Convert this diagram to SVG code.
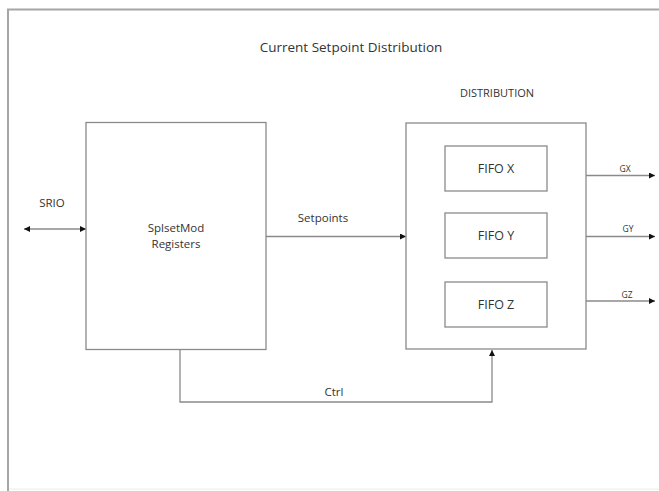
<svg xmlns="http://www.w3.org/2000/svg" width="659" height="491" viewBox="0 0 659 491">
<style>
text{font-family:"Open Sans","Liberation Sans",sans-serif;fill:#333;text-anchor:middle}
.box{fill:#fff;stroke:#8a8a8a;stroke-width:1.3}
.ln{fill:none;stroke:#8a8a8a;stroke-width:1.3}
.lbl{font-size:11.5px}
.sm{font-size:8.5px}
</style>
<defs>
<marker id="ah" viewBox="0 0 10 10" refX="10" refY="5" markerWidth="8" markerHeight="6" markerUnits="userSpaceOnUse" orient="auto-start-reverse">
<path d="M0,0 L10,5 L0,10 Z" fill="#111"/>
</marker>
</defs>
<rect width="659" height="491" fill="#fff"/>
<g id="frame">
<line x1="7" y1="9.5" x2="659" y2="9.5" stroke="#a6a6a6" stroke-width="2"/>
<line x1="8" y1="9" x2="8" y2="491" stroke="#a6a6a6" stroke-width="2"/>
<line x1="9" y1="489" x2="659" y2="489" stroke="#ececec" stroke-width="1"/>
</g>
<text x="351" y="52" style="font-size:13.5px">Current Setpoint Distribution</text>
<g id="connectors">
<line class="ln" x1="24" y1="229" x2="86" y2="229" marker-start="url(#ah)" marker-end="url(#ah)"/>
<line class="ln" x1="266" y1="236.5" x2="406" y2="236.5" marker-end="url(#ah)"/>
<polyline class="ln" points="180,350 180,402 492,402 492,350" marker-end="url(#ah)"/>
<line class="ln" x1="547" y1="175.5" x2="655" y2="175.5" marker-end="url(#ah)"/>
<line class="ln" x1="547" y1="236.5" x2="655" y2="236.5" marker-end="url(#ah)"/>
<line class="ln" x1="547" y1="301" x2="655" y2="301" marker-end="url(#ah)"/>
<text class="lbl" x="52" y="207">SRIO</text>
<text class="lbl" x="323" y="222">Setpoints</text>
<text class="lbl" x="334" y="396">Ctrl</text>
<text class="sm" x="625" y="172">GX</text>
<text class="sm" x="628" y="232">GY</text>
<text class="sm" x="627" y="298">GZ</text>
</g>
<g id="splsetmod">
<rect class="box" x="86" y="122.5" width="180" height="227"/>
<text class="lbl" x="176" y="232">SplsetMod</text>
<text class="lbl" x="176" y="248">Registers</text>
</g>
<g id="distribution">
<rect class="box" x="406" y="123" width="180" height="226"/>
<text class="lbl" x="497" y="97" style="font-size:11px">DISTRIBUTION</text>
</g>
<g id="fifo-x">
<rect class="box" x="445" y="146" width="102" height="45"/>
<text class="lbl" x="496" y="173" style="font-size:12.5px">FIFO X</text>
</g>
<g id="fifo-y">
<rect class="box" x="445" y="213" width="102" height="45"/>
<text class="lbl" x="496" y="240" style="font-size:12.5px">FIFO Y</text>
</g>
<g id="fifo-z">
<rect class="box" x="445" y="282" width="102" height="45"/>
<text class="lbl" x="496" y="309" style="font-size:12.5px">FIFO Z</text>
</g>
</svg>
